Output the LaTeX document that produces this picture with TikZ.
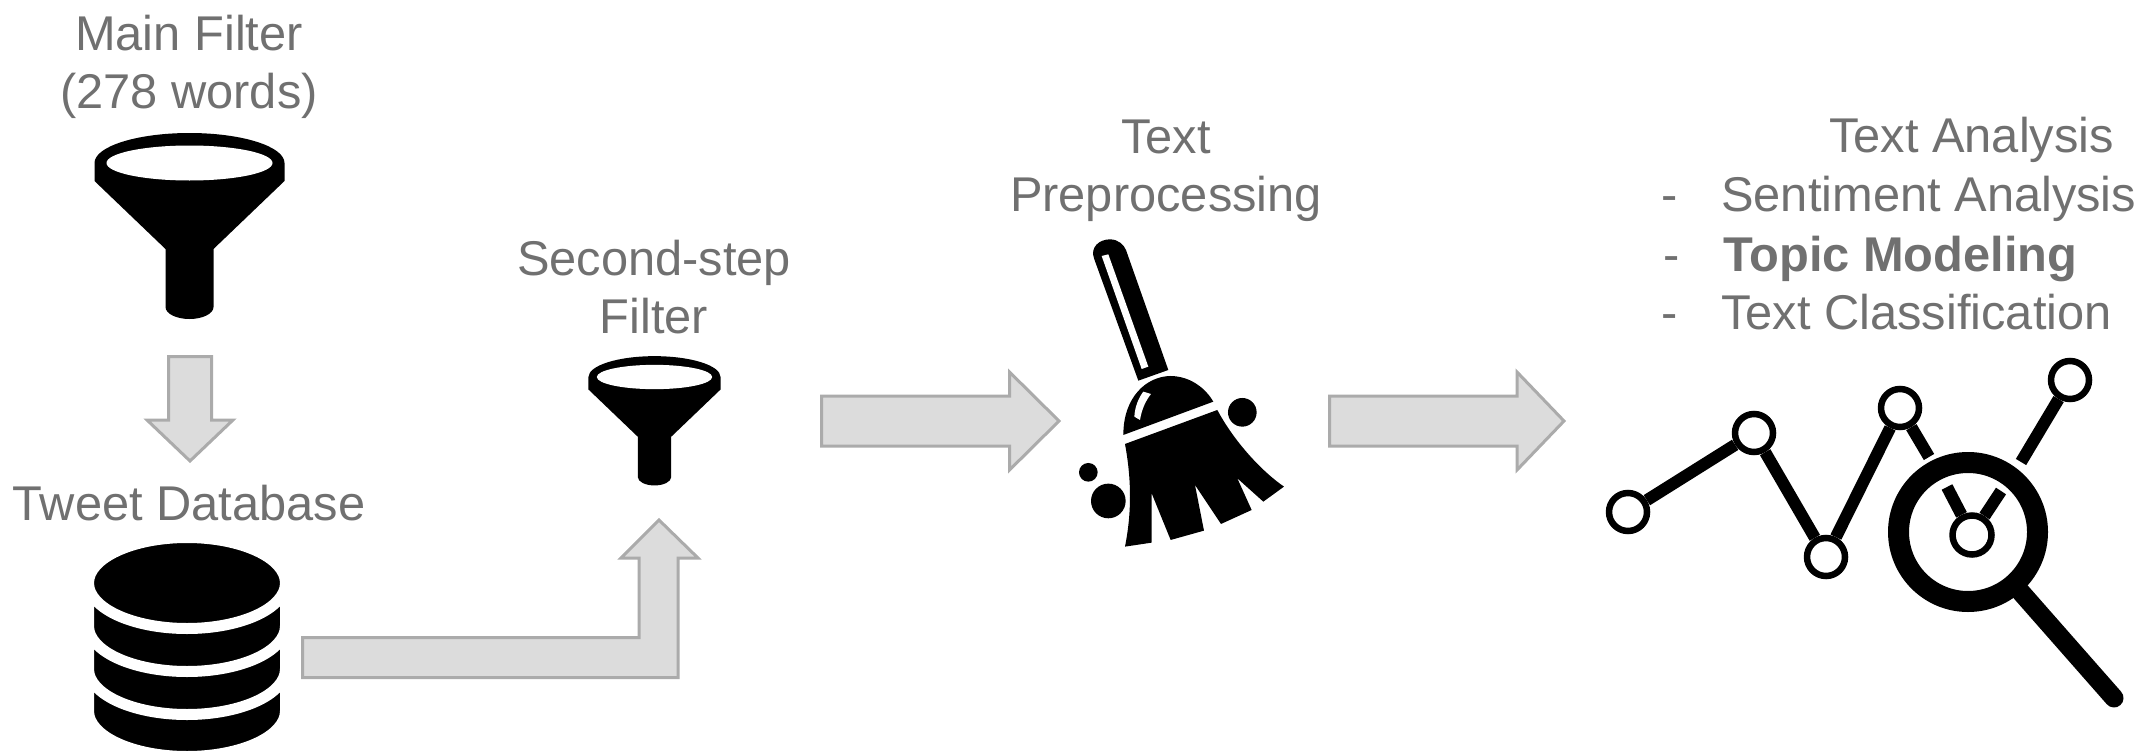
\documentclass[tikz,border=0pt]{standalone}
\usepackage{fontspec}
\setmainfont{Liberation Sans}
\usetikzlibrary{calc}
\definecolor{textgray}{HTML}{707070}
\definecolor{arrowfill}{HTML}{DCDCDC}
\definecolor{arrowedge}{HTML}{ABABAB}
% tail, tip, half shaft, half head, head length
\newcommand{\blockarrow}[5]{%
  \coordinate (headbase) at ($(#2)!#5pt!(#1)$);
  \draw[blockarrow] ($(#1)!#3pt!90:(#2)$) -- ($(headbase)!#3pt!-90:(#1)$) -- ($(headbase)!#4pt!-90:(#1)$)
    -- (#2) -- ($(headbase)!#4pt!90:(#1)$) -- ($(headbase)!#3pt!90:(#1)$) -- ($(#1)!#3pt!-90:(#2)$) -- cycle;
}
\begin{document}
\begin{tikzpicture}[
  x=1pt,y=-1pt,
  icontext/.style={text=textgray,font=\fontsize{48.8}{58}\selectfont,inner sep=0pt,align=center},
  listtext/.style={icontext,anchor=base west,align=left},
  blockarrow/.style={draw=arrowedge,fill=arrowfill,line width=3pt},
  chartpoint/.style={circle,draw=black,fill=white,line width=6.5pt,inner sep=0pt,minimum size=38pt},
  chartline/.style={black,line width=12pt},
  dbsection/.style={draw=white,fill=black,line width=11pt},
  funnelicon/.pic={
    \fill[black] (-95,0) arc[start angle=180,end angle=360,x radius=95,y radius=30] -- (95,18) -- (24,86)
      -- (24,144) arc[start angle=0,end angle=180,x radius=24,y radius=12] -- (-24,86) -- (-95,18) -- cycle;
    \fill[white] (0,0) ellipse[x radius=83,y radius=17.5];
  }
]
  \useasboundingbox (0,0) rectangle (2141,752);

  % labels
  \node[icontext,anchor=base] (mainlabel) at (189,108) {Main Filter\\(278 words)};
  \node[icontext,anchor=base] (dblabel) at (189,520) {Tweet Database};
  \node[icontext,anchor=base] (secondlabel) at (654,333) {Second-step\\Filter};
  \node[icontext,anchor=base] (prelabel) at (1166,211) {Text\\Preprocessing};
  \node[listtext] (analysislabel) at (1829,152) {Text Analysis};
  \node[listtext] (sentiment) at (1661,211) {\makebox[60pt][l]{-}Sentiment Analysis};
  \node[listtext] (topic) at (1663,271) {\makebox[60pt][l]{-}\textbf{Topic Modeling}};
  \node[listtext] (classes) at (1661,329) {\makebox[60pt][l]{-}Text Classification};

  % funnels
  \pic at (189.5,163) {funnelicon};
  \pic[scale=.695] at (654.5,377) {funnelicon};

  % database
  \foreach \c in {711,669,626}{
    \path[dbsection] (88.5,583) -- (88.5,\c) arc[start angle=180,end angle=0,x radius=98.5,y radius=45.5] -- (285.5,583) -- cycle;
  }
  \path[dbsection] (187,583) ellipse[x radius=98.5,y radius=45.5];

  % block arrows
  \coordinate (maintail) at (190,356.5);
  \coordinate (maintip) at (190,461);
  \coordinate (secondtail) at (821.5,421);
  \coordinate (secondtip) at (1059,421);
  \coordinate (pretail) at (1329.5,421);
  \coordinate (pretip) at (1564,421);
  \coordinate (dbtail) at (302.5,637.5);
  \coordinate (dbtip) at (659,520);
  \blockarrow{maintail}{maintip}{21.5}{43}{41}
  \blockarrow{secondtail}{secondtip}{25}{49}{49.5}
  \blockarrow{pretail}{pretip}{25}{49}{47}
  \draw[blockarrow] (dbtail) -- (639,637.5) -- (639,558) -- (621,558) -- (dbtip) -- (698,558) -- (678,558) -- (678,677.5) -- (302.5,677.5) -- cycle;

  % broom
  \begin{scope}[shift={(1000,220)},scale=.3333]
    \fill[black] (415,482) -- (283,118) .. controls (268,80) and (300,58) .. (330,58) .. controls (355,58) and (372,75) .. (378,90) -- (505,450) -- cycle;
    \fill[white] (305,108) -- (325,103) -- (445,440) -- (425,447) -- cycle;
    \fill[black] (370,645) .. controls (370,530) and (440,470) .. (510,468) .. controls (575,468) and (620,510) .. (640,545) -- cycle;
    \fill[white] (430,515) -- (453,522) .. controls (435,545) and (425,570) .. (420,600) -- (403,590) .. controls (405,560) and (415,535) .. (430,515) -- cycle;
    \fill[black] (375,672) -- (652,570) .. controls (700,660) and (780,750) .. (852,800) -- (790,845) -- (712,775) -- (755,870) -- (663,912) -- (585,795) -- (612,932) -- (512,960) -- (455,820) -- (455,968) -- (375,980) .. controls (395,880) and (395,780) .. (375,672) -- cycle;
    \fill[black] (727,577) circle[radius=43];
    \fill[black] (265,757) circle[radius=28];
    \fill[black] (325,843) circle[radius=52];
  \end{scope}

  % chart and magnifier
  \node[chartpoint] (pointa) at (1628,512) {};
  \node[chartpoint] (pointb) at (1754,433) {};
  \node[chartpoint] (pointc) at (1826,557) {};
  \node[chartpoint] (pointd) at (1900,408) {};
  \node[chartpoint] (pointe) at (2070,380) {};
  \node[chartpoint,minimum size=39pt] (pointf) at (1972,535) {};
  \node[circle,draw=black,line width=21pt,inner sep=0pt,minimum size=139pt] (lens) at (1968,532) {};
  \coordinate (stubd) at (1929,457);
  \coordinate (stube) at (2021,462);
  \coordinate (stubleft) at (1947,487);
  \coordinate (stubright) at (2001,491);
  \coordinate (handleend) at (2114,698);
  \draw[chartline] (pointa) -- (pointb);
  \draw[chartline] (pointb) -- (pointc);
  \draw[chartline] (pointc) -- (pointd);
  \draw[chartline] (pointd) -- (stubd);
  \draw[chartline] (pointe) -- (stube);
  \draw[chartline] (pointf) -- (stubleft);
  \draw[chartline] (pointf) -- (stubright);
  \draw[black,line width=19pt,line cap=round] (lens) -- (handleend);
\end{tikzpicture}
\end{document}
